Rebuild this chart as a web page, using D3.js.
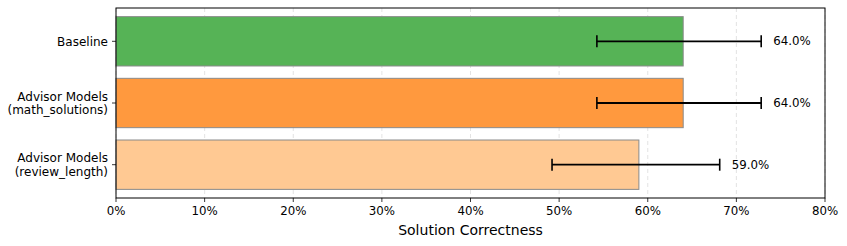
<!DOCTYPE html>
<html>
<head>
<meta charset="utf-8">
<script src="https://cdn.jsdelivr.net/npm/d3@7"></script>
<style>
  body { margin: 0; background: #fff; }
  svg text { font-family: "DejaVu Sans", sans-serif; fill: #000; }
</style>
</head>
<body>
<div id="chart"></div>
<script>
// chart values
const categories = ["Baseline", "Advisor Models\n(math_solutions)", "Advisor Models\n(review_length)"];
const values = [64.0, 64.0, 59.0];
const errLow = [54.26, 54.26, 49.20];
const errHigh = [72.80, 72.80, 68.12];
const barColors = ["#56b356", "#ff993e", "#ffc993"];
const xTicks = [0, 10, 20, 30, 40, 50, 60, 70, 80];

const margin = {top: 8, right: 22, bottom: 48, left: 116};
const width = 847, height = 246;
const innerW = width - margin.left - margin.right;
const innerH = height - margin.top - margin.bottom;

const svg = d3.select("#chart")
    .append("svg")
    .attr("width", width)
    .attr("height", height)
    .append("g")
    .attr("transform", `translate(${margin.left},${margin.top})`);

const x = d3.scaleLinear().domain([0, 80]).range([0, innerW]);
// matplotlib-like band: bar height 0.8, ylim -0.54..2.54
const y = d3.scaleLinear().domain([-0.54, 2.54]).range([0, innerH]);

// grid
svg.selectAll(".grid")
    .data(xTicks)
    .enter()
    .append("line")
    .attr("x1", d => x(d)).attr("x2", d => x(d))
    .attr("y1", 0).attr("y2", innerH)
    .style("stroke", "#dcdcdc")
    .style("stroke-width", 0.8)
    .style("stroke-dasharray", "4,3");

const data = categories.map((c, i) => ({c, v: values[i], lo: errLow[i], hi: errHigh[i], col: barColors[i], i}));

svg.selectAll(".bar")
    .data(data)
    .enter()
    .append("rect")
    .attr("x", x(0))
    .attr("y", d => y(d.i - 0.4))
    .attr("width", d => x(d.v) - x(0))
    .attr("height", d => y(d.i + 0.4) - y(d.i - 0.4))
    .style("fill", d => d.col)
    .style("stroke", "#8a8a8a")
    .style("stroke-width", 1);

// error bars
const eb = svg.selectAll(".err").data(data).enter().append("g");
eb.append("line")
    .attr("x1", d => x(d.lo)).attr("x2", d => x(d.hi))
    .attr("y1", d => y(d.i)).attr("y2", d => y(d.i))
    .style("stroke", "#000").style("stroke-width", 1.8);
eb.append("line")
    .attr("x1", d => x(d.lo)).attr("x2", d => x(d.lo))
    .attr("y1", d => y(d.i) - 6).attr("y2", d => y(d.i) + 6)
    .style("stroke", "#000").style("stroke-width", 1.6);
eb.append("line")
    .attr("x1", d => x(d.hi)).attr("x2", d => x(d.hi))
    .attr("y1", d => y(d.i) - 6).attr("y2", d => y(d.i) + 6)
    .style("stroke", "#000").style("stroke-width", 1.6);

// value labels
svg.selectAll(".val")
    .data(data)
    .enter()
    .append("text")
    .attr("x", d => x(d.hi) + 12)
    .attr("y", d => y(d.i))
    .attr("dy", "0.35em")
    .style("font-size", "11.8px")
    .text(d => d.v.toFixed(1) + "%");

// frame
svg.append("rect")
    .attr("x", 0).attr("y", 0)
    .attr("width", innerW).attr("height", innerH)
    .style("fill", "none")
    .style("stroke", "#000")
    .style("stroke-width", 1);

// x axis
svg.selectAll(".xtick")
    .data(xTicks)
    .enter()
    .append("line")
    .attr("x1", d => x(d)).attr("x2", d => x(d))
    .attr("y1", innerH).attr("y2", innerH + 4)
    .style("stroke", "#000").style("stroke-width", 0.8);
svg.selectAll(".xlab")
    .data(xTicks)
    .enter()
    .append("text")
    .attr("x", d => x(d))
    .attr("y", innerH + 17)
    .style("text-anchor", "middle")
    .style("font-size", "11.8px")
    .text(d => d + "%");

svg.append("text")
    .attr("x", innerW / 2)
    .attr("y", innerH + 37)
    .style("text-anchor", "middle")
    .style("font-size", "14px")
    .text("Solution Correctness");

// y axis
svg.selectAll(".ytick")
    .data(data)
    .enter()
    .append("line")
    .attr("x1", -4).attr("x2", 0)
    .attr("y1", d => y(d.i)).attr("y2", d => y(d.i))
    .style("stroke", "#000").style("stroke-width", 0.8);

const ylab = svg.selectAll(".ylab")
    .data(data)
    .enter()
    .append("text")
    .attr("x", -8)
    .attr("y", d => y(d.i))
    .style("text-anchor", "end")
    .style("font-size", "12px");
ylab.each(function(d) {
    const lines = d.c.split("\n");
    const t = d3.select(this);
    lines.forEach((ln, k) => {
        t.append("tspan")
            .attr("x", -8)
            .attr("dy", k === 0 ? (0.35 - (lines.length - 1) * 0.55) + "em" : "1.15em")
            .text(ln);
    });
});
</script>
</body>
</html>
